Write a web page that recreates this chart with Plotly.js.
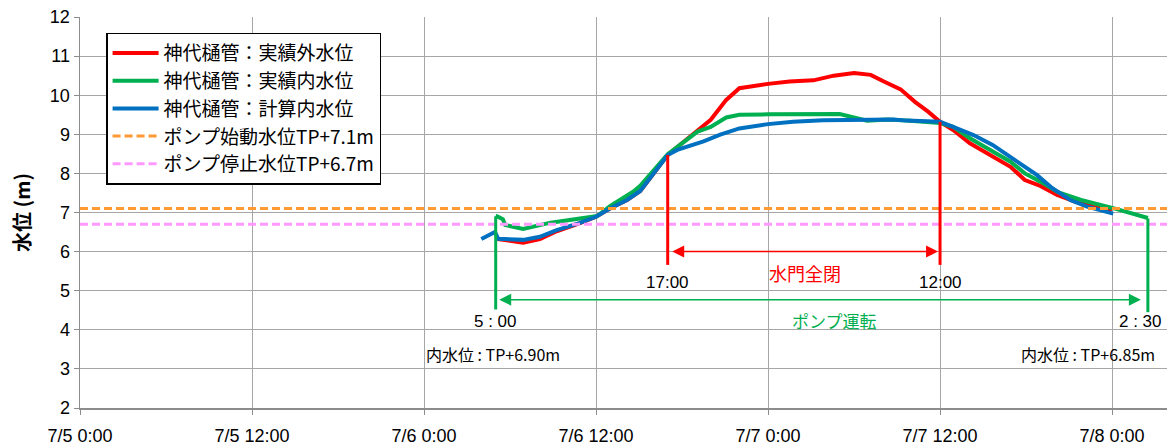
<!DOCTYPE html>
<html><head><meta charset="utf-8">
<script src="https://cdn.plot.ly/plotly-3.0.1.min.js"></script>
<style>html,body{margin:0;padding:0;background:#fff;}#chart{width:1169px;height:448px;}</style>
</head><body><div id="chart"></div>
<script>
// ---- data ----
const redTimes = ['7/6 5:00','7/6 6:55','7/6 8:05','7/6 9:15','7/6 10:50','7/6 12:00','7/6 13:00','7/6 14:10','7/6 15:05','7/6 17:00','7/6 19:00','7/6 20:00','7/6 21:05','7/6 22:00','7/7 0:00','7/7 1:30','7/7 3:10','7/7 4:35','7/7 6:00','7/7 7:10','7/7 8:05','7/7 9:15','7/7 10:15','7/7 11:10','7/7 12:00','7/7 12:55','7/7 14:05','7/7 15:30','7/7 16:55','7/7 17:55','7/7 19:00','7/7 20:10','7/7 21:25','7/7 22:40','7/8 0:00'];
const redLevels = [6.33,6.23,6.32,6.52,6.72,6.89,7.11,7.32,7.55,8.47,9.07,9.37,9.88,10.18,10.29,10.35,10.38,10.50,10.57,10.52,10.35,10.15,9.83,9.58,9.32,9.11,8.77,8.47,8.17,7.83,7.68,7.45,7.28,7.17,7.07];

const greenTimes = ['7/6 5:00','7/6 5:30','7/6 5:40','7/6 6:55','7/6 8:50','7/6 10:50','7/6 12:05','7/6 13:00','7/6 14:35','7/6 15:05','7/6 17:00','7/6 19:05','7/6 20:00','7/6 21:05','7/6 22:00','7/7 0:00','7/7 5:00','7/7 6:55','7/7 8:20','7/7 9:40','7/7 12:00','7/7 12:55','7/7 14:05','7/7 15:30','7/7 16:55','7/7 17:55','7/7 19:00','7/7 20:10','7/7 21:50','7/8 0:05','7/8 2:30'];
const greenLevels = [6.92,6.83,6.68,6.58,6.74,6.83,6.91,7.17,7.53,7.68,8.49,9.07,9.19,9.43,9.50,9.51,9.52,9.35,9.38,9.35,9.29,9.19,8.90,8.60,8.30,8.00,7.79,7.53,7.32,7.11,6.86];

const blueTimes = ['7/6 4:00','7/6 4:57','7/6 5:10','7/6 6:00','7/6 6:55','7/6 8:05','7/6 9:15','7/6 10:50','7/6 12:00','7/6 13:00','7/6 14:10','7/6 15:05','7/6 17:00','7/6 17:40','7/6 18:40','7/6 19:30','7/6 20:40','7/6 22:00','7/7 0:00','7/7 1:45','7/7 3:50','7/7 7:20','7/7 8:45','7/7 9:40','7/7 12:00','7/7 12:55','7/7 14:20','7/7 15:40','7/7 17:05','7/7 18:45','7/7 19:50','7/7 21:05','7/7 22:15','7/8 0:05'];
const blueLevels = [6.32,6.50,6.33,6.31,6.30,6.38,6.55,6.73,6.89,7.11,7.32,7.55,8.47,8.60,8.71,8.82,8.99,9.15,9.26,9.32,9.36,9.37,9.38,9.35,9.32,9.19,8.98,8.73,8.39,7.96,7.62,7.32,7.15,6.97];

const pumpStartLevel = 7.1;
const pumpStopLevel = 6.7;

const seriesNames = ['神代樋管：実績外水位','神代樋管：実績内水位','神代樋管：計算内水位','ポンプ始動水位TP+7.1m','ポンプ停止水位TP+6.7m'];

const tickTimes = ['7/5 0:00','7/5 12:00','7/6 0:00','7/6 12:00','7/7 0:00','7/7 12:00','7/8 0:00'];
const tickLabels = ['7/5 0:00','7/5 12:00','7/6 0:00','7/6 12:00','7/7 0:00','7/7 12:00','7/8 0:00'];

const axisStart = '7/5 0:00';
const axisEnd = '7/8 3:50';

// gate closed period and pump run period
const gateClose = '7/6 17:00', gateOpen = '7/7 12:00';
const gateCloseLevel = 8.47, gateOpenLevel = 9.32;
const pumpOn = '7/6 5:00', pumpOff = '7/8 2:30';
const pumpOnLevel = 6.90, pumpOffLevel = 6.85;

// ---- helpers ----
function toDate(s){
  const [md, hm] = s.split(' ');
  const [m, d] = md.split('/').map(Number);
  const [h, mi] = hm.split(':').map(Number);
  const p = n => String(n).padStart(2,'0');
  return `2021-${p(m)}-${p(d)} ${p(h)}:${p(mi)}`;
}
const D = a => a.map(toDate);

const jp = '"Noto Sans CJK JP", sans-serif';
const lat = '"Liberation Sans", Arial, sans-serif';

const traces = [
  {x:D(redTimes), y:redLevels, name:seriesNames[0], mode:'lines', line:{color:'#FF0000', width:4}},
  {x:D(greenTimes), y:greenLevels, name:seriesNames[1], mode:'lines', line:{color:'#00B050', width:4}},
  {x:D(blueTimes), y:blueLevels, name:seriesNames[2], mode:'lines', line:{color:'#0070C0', width:4}},
  {x:D([axisStart, axisEnd]), y:[pumpStartLevel,pumpStartLevel], name:seriesNames[3], mode:'lines', line:{color:'#FF9933', width:3, dash:'8px,4px'}},
  {x:D([axisStart, axisEnd]), y:[pumpStopLevel,pumpStopLevel], name:seriesNames[4], mode:'lines', line:{color:'#FF99FF', width:3, dash:'8px,4px'}}
];

const gateLow = 5.66, pumpLowA = 4.52, pumpLowB = 4.45;
const gateArrowY = 6.0, pumpArrowY = 4.77;

const shapes = [
  {type:'line', xref:'x', yref:'y', x0:toDate(gateClose), x1:toDate(gateClose), y0:gateCloseLevel, y1:gateLow, line:{color:'#FF0000', width:3}},
  {type:'line', xref:'x', yref:'y', x0:toDate(gateOpen), x1:toDate(gateOpen), y0:gateOpenLevel, y1:gateLow, line:{color:'#FF0000', width:3}},
  {type:'line', xref:'x', yref:'y', x0:toDate(pumpOn), x1:toDate(pumpOn), y0:pumpOnLevel, y1:pumpLowA, line:{color:'#00B050', width:3}},
  {type:'line', xref:'x', yref:'y', x0:toDate(pumpOff), x1:toDate(pumpOff), y0:pumpOffLevel, y1:pumpLowB, line:{color:'#00B050', width:3}}
];

const annotations = [
  {x:toDate(gateOpen), y:gateArrowY, ax:toDate(gateClose), ay:gateArrowY, xref:'x', yref:'y', axref:'x', ayref:'y', text:'', showarrow:true,
   arrowside:'end+start', arrowhead:2, startarrowhead:2, arrowsize:1.6, startarrowsize:1.6, arrowwidth:1.5, arrowcolor:'#FF0000', standoff:2, startstandoff:3},
  {x:toDate(pumpOff), y:pumpArrowY, ax:toDate(pumpOn), ay:pumpArrowY, xref:'x', yref:'y', axref:'x', ayref:'y', text:'', showarrow:true,
   arrowside:'end+start', arrowhead:2, startarrowhead:2, arrowsize:1.6, startarrowsize:1.6, arrowwidth:1.5, arrowcolor:'#00B050', standoff:7, startstandoff:2},
  {x:toDate(gateClose), y:5.22, text:'17:00', showarrow:false, font:{family:lat, size:17, color:'#000'}},
  {x:toDate(gateOpen), y:5.22, text:'12:00', showarrow:false, font:{family:lat, size:17, color:'#000'}},
  {x:toDate('7/7 2:35'), y:5.45, text:'水門全閉', showarrow:false, font:{family:jp, size:18, color:'#FF0000'}},
  {x:toDate(pumpOn), y:4.20, text:'5 : 00', showarrow:false, font:{family:lat, size:17, color:'#000'}},
  {x:toDate('7/8 2:00'), y:4.20, text:'2 : 30', showarrow:false, font:{family:lat, size:17, color:'#000'}},
  {x:toDate('7/7 4:40'), y:4.25, text:'ポンプ運転', showarrow:false, font:{family:jp, size:17, color:'#00B050'}},
  {x:toDate('7/6 4:50'), y:3.38, text:'内水位 : TP+6.90m', showarrow:false, font:{family:jp, size:16, color:'#000'}},
  {x:toDate('7/7 22:20'), y:3.38, text:'内水位 : TP+6.85m', showarrow:false, font:{family:jp, size:16, color:'#000'}}
];

const layout = {
  width:1169, height:448,
  margin:{l:80, r:2, t:17, b:40},
  paper_bgcolor:'#fff', plot_bgcolor:'#fff',
  showlegend:true,
  legend:{x:0.024, y:0.96, xanchor:'left', yanchor:'top', bgcolor:'#fff', bordercolor:'#000', borderwidth:1.5,
          font:{family:jp, size:19, color:'#000'}, tracegroupgap:0, itemwidth:46},
  xaxis:{type:'date', range:[toDate(axisStart), toDate(axisEnd)], tickvals:D(tickTimes), ticktext:tickLabels,
         showgrid:true, gridcolor:'#A6A6A6', gridwidth:1, showline:true, linecolor:'#8C8C8C', linewidth:2,
         ticks:'outside', ticklen:5, tickcolor:'#8C8C8C', ticklabelstandoff:5, tickfont:{family:lat, size:18, color:'#000'}, zeroline:false},
  yaxis:{range:[2,12], dtick:1, tick0:2, showgrid:true, gridcolor:'#A6A6A6', gridwidth:1, showline:true, linecolor:'#8C8C8C', linewidth:1.5,
         ticks:'outside', ticklen:5, tickcolor:'#8C8C8C', tickfont:{family:lat, size:18, color:'#000'}, zeroline:false,
         title:{text:'<b>水位 (m)</b>', font:{family:jp, size:20, color:'#000'}, standoff:14}},
  shapes:shapes,
  annotations:annotations
};

Plotly.newPlot('chart', traces, layout, {displayModeBar:false, staticPlot:true});
</script></body></html>
